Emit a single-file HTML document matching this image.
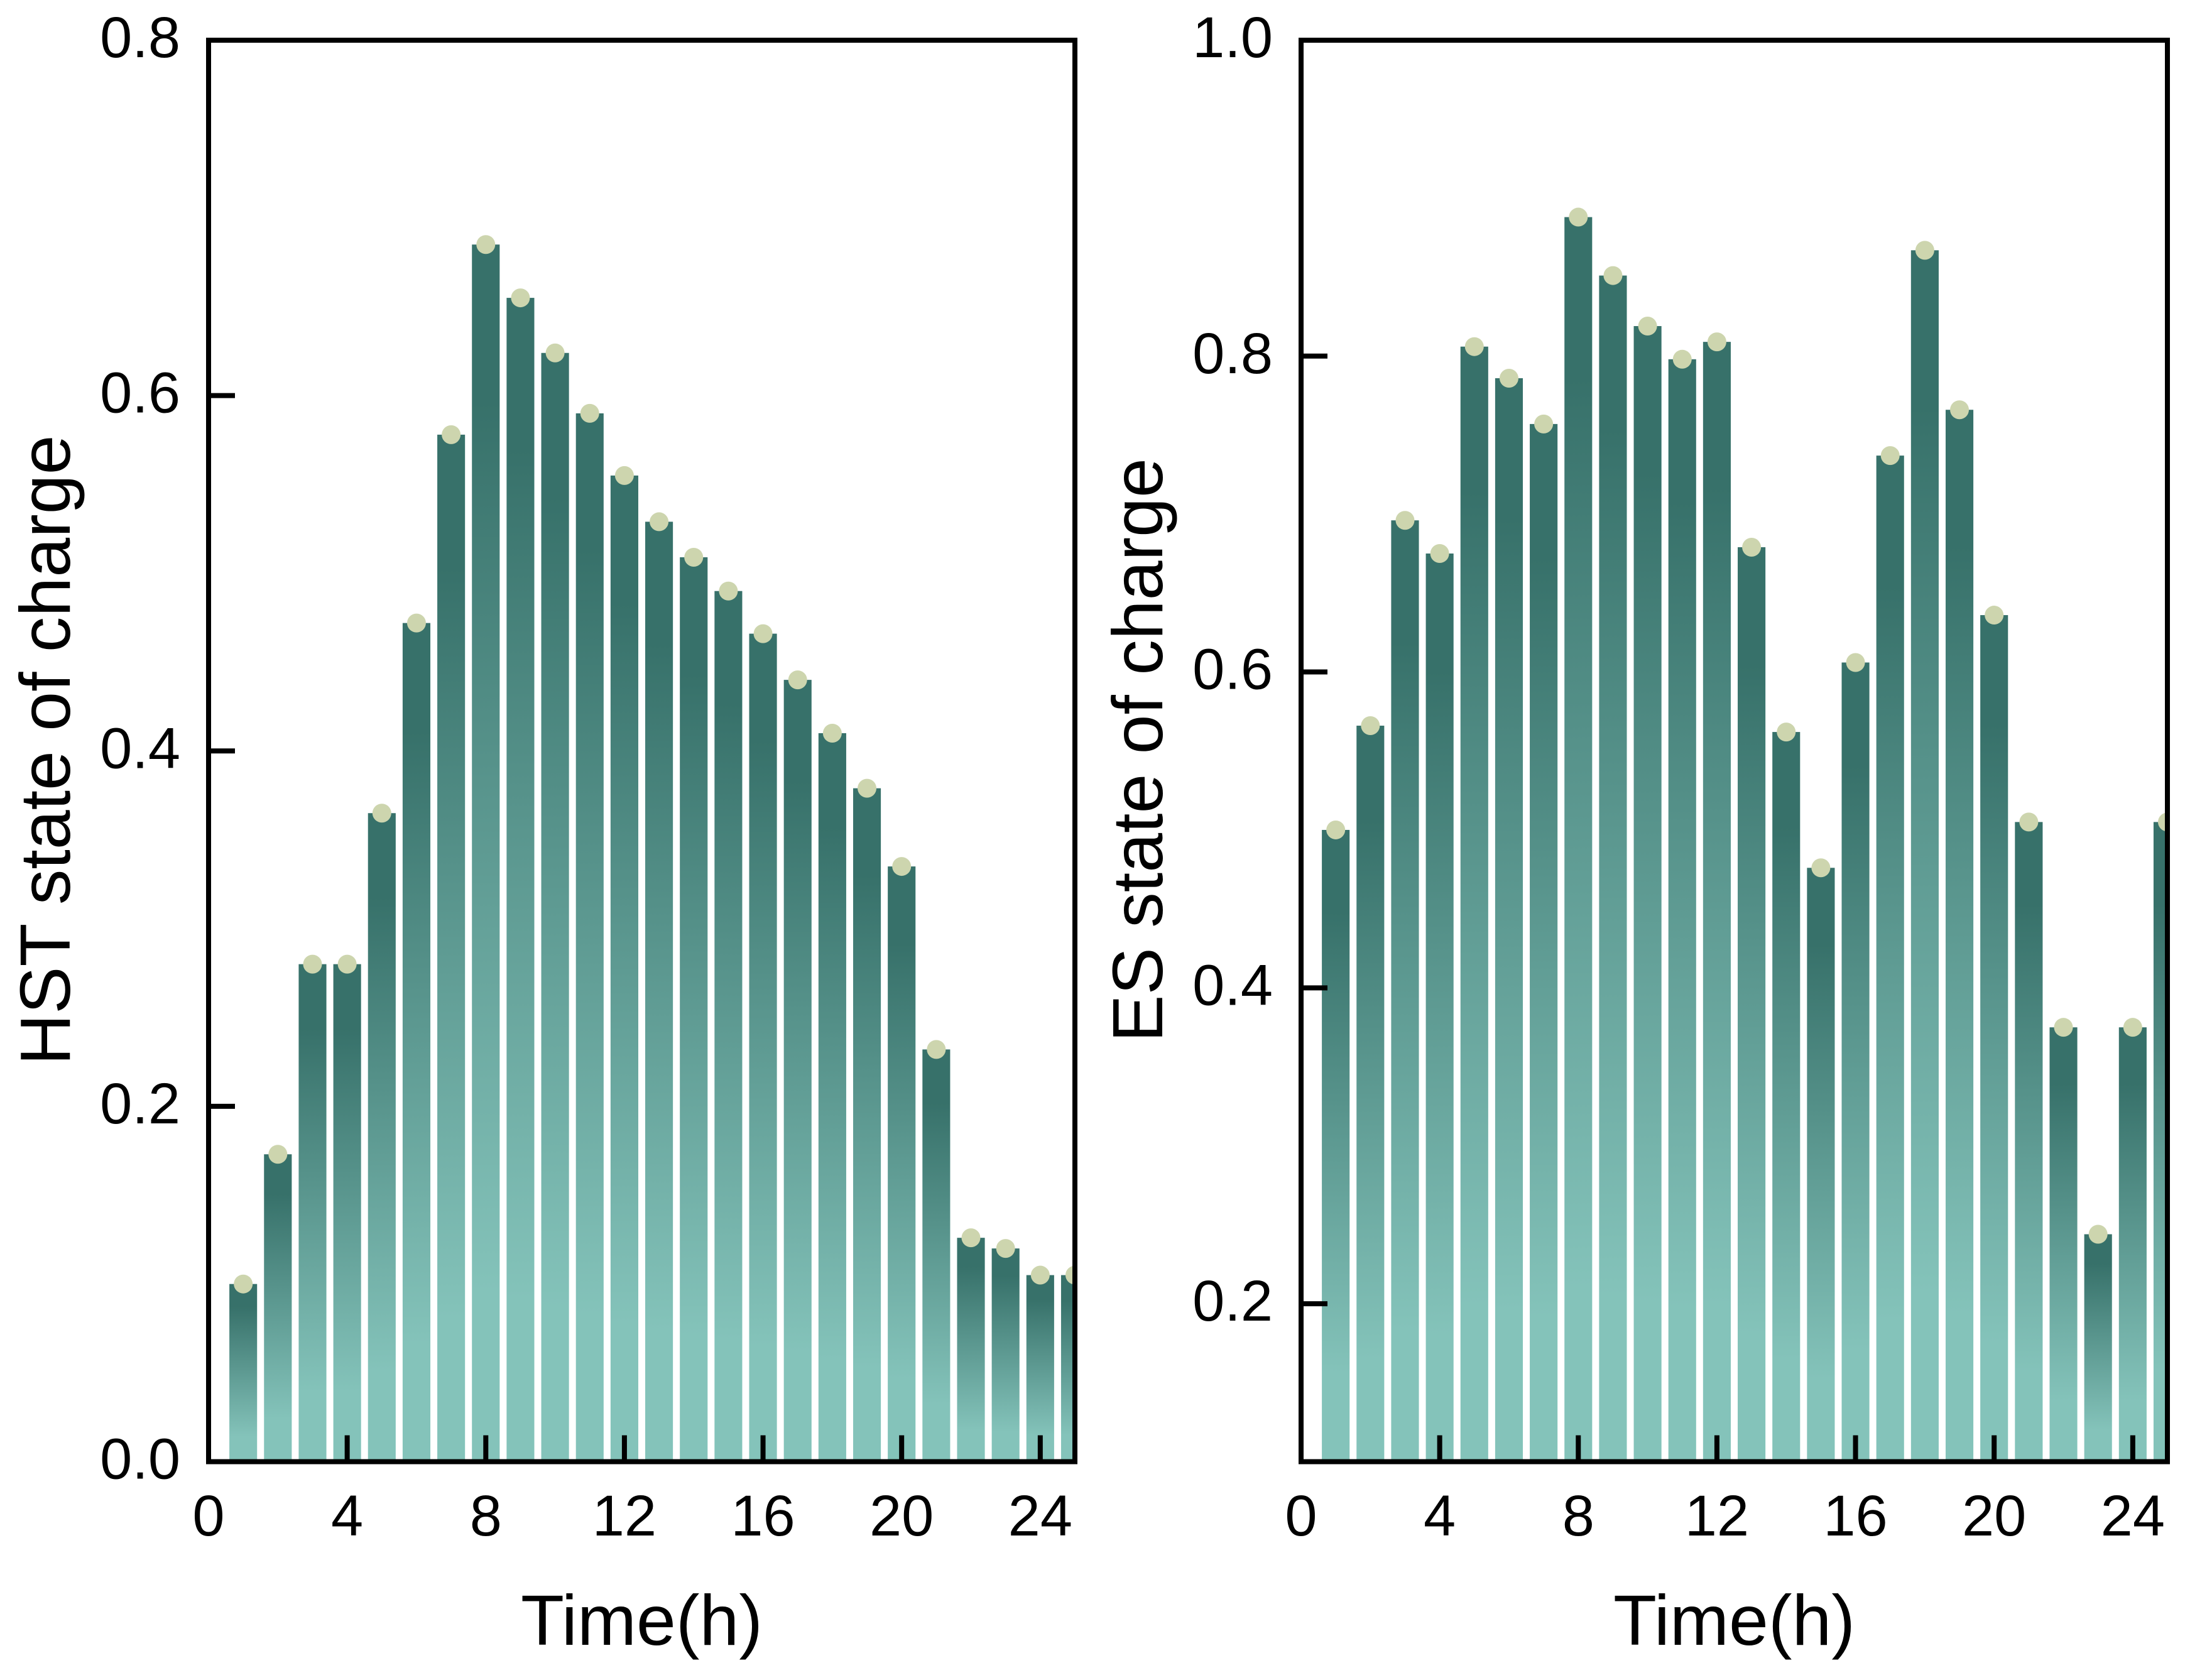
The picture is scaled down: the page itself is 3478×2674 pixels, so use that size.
<!DOCTYPE html>
<html lang="en">
<head>
<meta charset="utf-8">
<title>HST and ES state of charge</title>
<style>
  html, body { margin: 0; padding: 0; background: #ffffff; width: 3478px; height: 2674px; overflow: hidden; }
  svg { display: block; }
  text { font-family: "Liberation Sans", Arial, sans-serif; fill: #000000; }
  .tick-label { font-size: 92px; }
  .axis-title { font-size: 113px; }
</style>
</head>
<body>
<svg id="figure" xmlns="http://www.w3.org/2000/svg" width="3478" height="2674" viewBox="0 0 3478 2674">
  <defs>
    <linearGradient id="bar-gradient" x1="0" y1="0" x2="0" y2="1">
      <stop offset="0.13" stop-color="#37716A"/>
      <stop offset="0.86" stop-color="#84C3BA"/>
    </linearGradient>
    <clipPath id="clip-left"><rect x="332" y="64" width="1379" height="2262.5"/></clipPath>
    <clipPath id="clip-right"><rect x="2071" y="64" width="1379" height="2262.5"/></clipPath>
  </defs>
  <rect x="0" y="0" width="3478" height="2674" fill="#ffffff"/>

  <g id="panel-left">
    <g id="left-bars" clip-path="url(#clip-left)"></g>
    <g id="left-dots" clip-path="url(#clip-left)"></g>
    <g id="left-ticks"></g>
    <rect x="332" y="64" width="1379" height="2262.5" fill="none" stroke="#000000" stroke-width="8"/>
    <text class="axis-title" x="1021.5" y="2618" text-anchor="middle">Time(h)</text>
    <text class="axis-title" transform="translate(111 1194) rotate(-90)" text-anchor="middle">HST state of charge</text>
  </g>

  <g id="panel-right">
    <g id="right-bars" clip-path="url(#clip-right)"></g>
    <g id="right-dots" clip-path="url(#clip-right)"></g>
    <g id="right-ticks"></g>
    <rect x="2071" y="64" width="1379" height="2262.5" fill="none" stroke="#000000" stroke-width="8"/>
    <text class="axis-title" x="2760.5" y="2618" text-anchor="middle">Time(h)</text>
    <text class="axis-title" transform="translate(1850 1194) rotate(-90)" text-anchor="middle">ES state of charge</text>
  </g>
</svg>

<script>
const hours = [1,2,3,4,5,6,7,8,9,10,11,12,13,14,15,16,17,18,19,20,21,22,23,24,25];
const hstValues = [0.100,0.173,0.280,0.280,0.365,0.472,0.578,0.685,0.655,0.624,0.590,0.555,0.529,0.509,0.490,0.466,0.440,0.410,0.379,0.335,0.232,0.126,0.120,0.105,0.105];
const esValues = [0.500,0.566,0.696,0.675,0.806,0.786,0.757,0.888,0.851,0.819,0.798,0.809,0.679,0.562,0.476,0.606,0.737,0.867,0.766,0.636,0.505,0.375,0.244,0.375,0.505];
const xTickValues = [0,4,8,12,16,20,24];
const hstTickValues = [0.0,0.2,0.4,0.6,0.8];
const esTickValues = [0.2,0.4,0.6,0.8,1.0];

const SVG_NS = 'http://www.w3.org/2000/svg';
const X_MIN = 0, X_MAX = 25;
const PLOT_TOP = 64, PLOT_BOTTOM = 2326.5, PLOT_WIDTH = 1379;
const BAR_WIDTH_UNITS = 0.8, DOT_RADIUS = 15;
const TICK_LEN = 42, TICK_WIDTH = 8;

function make(tag, attrs) {
  const el = document.createElementNS(SVG_NS, tag);
  for (const k in attrs) el.setAttribute(k, attrs[k]);
  return el;
}

function drawPanel(prefix, domId, left, yMin, yMax, values, yTicks) {
  const xScale = v => left + (v - X_MIN) / (X_MAX - X_MIN) * PLOT_WIDTH;
  const yScale = v => PLOT_BOTTOM - (v - yMin) / (yMax - yMin) * (PLOT_BOTTOM - PLOT_TOP);
  const bars = document.getElementById(domId + '-bars');
  const dots = document.getElementById(domId + '-dots');
  const ticks = document.getElementById(domId + '-ticks');
  const barW = xScale(BAR_WIDTH_UNITS) - xScale(0);

  hours.forEach((h, i) => {
    const top = yScale(values[i]);
    const bar = make('rect', { x: xScale(h) - barW / 2, y: top, width: barW, height: PLOT_BOTTOM - top, fill: 'url(#bar-gradient)' });
    
    
    bars.appendChild(bar);

    const dot = make('circle', { cx: xScale(h), cy: top, r: DOT_RADIUS, fill: '#CDD5AE' });
    
    
    dots.appendChild(dot);
  });

  xTickValues.forEach(v => {
    const mark = make('line', { x1: xScale(v), x2: xScale(v), y1: PLOT_BOTTOM, y2: PLOT_BOTTOM - TICK_LEN, stroke: '#000', 'stroke-width': TICK_WIDTH });
    
    
    ticks.appendChild(mark);

    const label = make('text', { x: xScale(v), y: 2444, 'text-anchor': 'middle', class: 'tick-label' });
    label.textContent = String(v);
    
    
    ticks.appendChild(label);
  });

  yTicks.forEach(v => {
    const mark = make('line', { x1: left, x2: left + TICK_LEN, y1: yScale(v), y2: yScale(v), stroke: '#000', 'stroke-width': TICK_WIDTH });
    
    
    ticks.appendChild(mark);

    const label = make('text', { x: left - 45, y: yScale(v) + 27, 'text-anchor': 'end', class: 'tick-label' });
    label.textContent = v.toFixed(1);
    
    
    ticks.appendChild(label);
  });
}

drawPanel('hst', 'left', 332, 0.0, 0.8, hstValues, hstTickValues);
drawPanel('es', 'right', 2071, 0.1, 1.0, esValues, esTickValues);
</script>
</body>
</html>
